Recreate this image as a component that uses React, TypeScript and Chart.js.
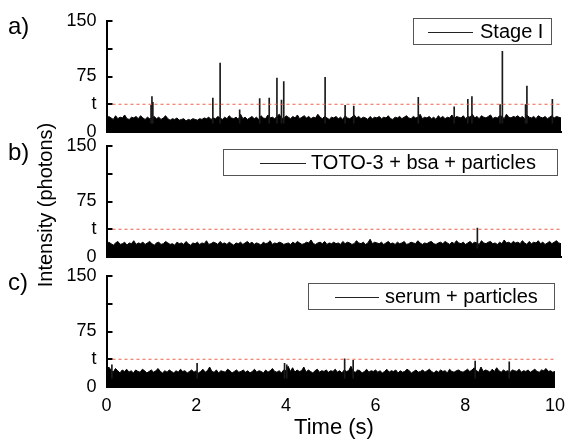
import { useEffect, useRef } from 'react';
import { Chart, registerables } from 'chart.js';

Chart.register(...registerables);

// ---------- data ----------
const NOISE_STEP = 0.05; // seconds between samples of the envelope arrays below

const NOISE_A = [
  18, 21, 19, 17, 22, 18, 20, 19, 23, 18, 17, 20, 19, 21, 18, 22, 19, 17, 20, 18,
  19, 21, 18, 20, 17, 19, 22, 18, 16, 18, 17, 19, 16, 17, 18, 15, 17, 16, 18, 17,
  16, 18, 17, 19, 18, 20, 17, 19, 18, 21, 19, 17, 20, 18, 22, 19, 18, 20, 17, 24,
  18, 20, 17, 19, 21, 18, 20, 17, 22, 19, 18, 23, 19, 20, 18, 21, 24, 19, 18, 22,
  20, 18, 21, 19, 23, 18, 20, 22, 19, 21, 18, 20, 19, 24, 20, 18, 21, 19, 17, 20,
  19, 21, 18, 20, 17, 22, 19, 18, 20, 23, 19, 21, 18, 20, 19, 17, 21, 18, 20, 19,
  21, 18, 20, 19, 22, 18, 17, 20, 19, 21, 18, 20, 22, 19, 18, 21, 19, 20, 24, 18,
  20, 19, 21, 18, 20, 17, 22, 19, 21, 18, 20, 19, 23, 18, 21, 20, 19, 22, 18, 21,
  20, 24, 19, 21, 18, 22, 20, 19, 21, 23, 18, 20, 19, 22, 21, 18, 24, 20, 19, 21,
  20, 22, 19, 21, 18, 23, 20, 19, 21, 18, 22, 20, 19, 21, 18, 20, 22, 19, 21, 20,
  19,
];

const NOISE_B = [
  17, 20, 18, 16, 19, 21, 17, 18, 20, 16, 19, 18, 22, 17, 19, 18, 20, 17, 19, 21,
  18, 16, 19, 20, 17, 18, 21, 19, 17, 18, 16, 20, 18, 19, 17, 21, 18, 16, 19, 18,
  20, 17, 19, 18, 22, 17, 18, 20, 19, 17, 21, 18, 19, 17, 20, 18, 16, 19, 18, 20,
  17, 19, 21, 18, 20, 17, 19, 18, 16, 20, 18, 19, 22, 17, 19, 18, 20, 19, 17, 18,
  19, 17, 20, 18, 21, 19, 17, 18, 20, 19, 23, 18, 17, 19, 20, 18, 21, 17, 19, 18,
  20, 18, 19, 17, 21, 18, 20, 19, 17, 18, 22, 19, 18, 20, 17, 19, 24, 18, 20, 19,
  18, 20, 17, 19, 21, 18, 19, 17, 20, 18, 19, 21, 17, 18, 20, 19, 18, 22, 19, 17,
  19, 18, 20, 21, 18, 17, 19, 20, 18, 21, 19, 17, 20, 18, 22, 19, 18, 20, 17, 19,
  21, 18, 20, 19, 17, 22, 19, 18, 20, 21, 18, 19, 17, 20, 18, 23, 19, 20, 18, 21,
  19, 20, 18, 22, 19, 17, 21, 18, 20, 19, 22, 18, 20, 17, 19, 21, 18, 20, 22, 19,
  18,
];

const NOISE_C = [
  21, 27, 23, 20, 25, 22, 19, 23, 21, 24, 20, 22, 19, 23, 21, 20, 24, 22, 19, 21,
  23, 20, 22, 25, 21, 19, 22, 20, 23, 21, 19, 22, 20, 24, 21, 22, 19, 21, 23, 20,
  22, 19, 21, 24, 20, 22, 27, 21, 20, 23, 19, 22, 21, 20, 24, 22, 19, 21, 23, 20,
  21, 23, 20, 22, 19, 21, 24, 20, 22, 21, 19, 23, 20, 22, 25, 21, 20, 22, 19, 23,
  22, 28, 21, 26, 20, 23, 21, 22, 27, 20, 23, 21, 19, 22, 24, 20, 22, 21, 23, 20,
  22, 21, 24, 20, 22, 19, 23, 21, 22, 28, 21, 20, 23, 22, 19, 21, 24, 20, 22, 21,
  23, 20, 22, 19, 21, 24, 20, 22, 21, 23, 19, 22, 20, 21, 24, 22, 19, 21, 23, 20,
  21, 23, 20, 22, 24, 21, 19, 22, 20, 23, 21, 22, 19, 24, 21, 20, 22, 23, 21, 20,
  22, 24, 21, 23, 26, 22, 20, 27, 21, 23, 22, 20, 24, 21, 26, 22, 20, 23, 21, 22,
  20, 23, 22, 21, 24, 20, 22, 21, 23, 20, 22, 24, 21, 20, 23, 22, 25, 21, 22, 20,
  21,
];

const SPIKE_A_T = [0.98, 1.0, 1.02, 2.34, 2.5, 2.93, 3.37, 3.58, 3.75, 3.85, 3.9, 4.81, 5.25, 5.44, 6.86, 7.65, 7.95, 8.04, 8.66, 8.71, 9.22, 9.25, 9.81];
const SPIKE_A_Y = [36, 48, 40, 46, 93, 30, 45, 46, 73, 43, 68, 74, 36, 35, 47, 34, 44, 48, 37, 109, 37, 62, 44];

const SPIKE_B_T = [8.16];
const SPIKE_B_Y = [39];

const SPIKE_C_T = [0.12, 2.02, 3.97, 4.02, 5.31, 5.5, 8.22, 8.98];
const SPIKE_C_Y = [30, 32, 32, 30, 38, 36, 35, 34];

const SPIKE_BASE = 12; // spikes rise out of the noise band

const THRESHOLD = 37.5;
const Y_TICKS = [0, THRESHOLD, 75, 112.5, 150];
const Y_TICK_LABELS = ['0', 't', '75', '', '150'];
const X_TICKS = [0, 2, 4, 6, 8, 10];
const LEGEND_TEXT = ['Stage I', 'TOTO-3 + bsa + particles', 'serum + particles'];
const PANEL_LABELS = ['a)', 'b)', 'c)'];
const Y_TITLE = 'Intensity (photons)';
const X_TITLE = 'Time (s)';

// ---------- layout ----------
const W = 573;
const H = 439;
const FONT = "'Liberation Sans', Arial, Helvetica, sans-serif";
const PLOT_LEFT = 106.5;
const PLOT_RIGHT = 561;

const LAYOUT = [
  { top: 21, bottom: 132, box: [413.5, 18.5, 138, 26], line: [428, 473], textX: 480, labelY: 27, xLabels: false },
  { top: 146, bottom: 257, box: [223.5, 149.5, 334, 26], line: [260, 306], textX: 311, labelY: 153, xLabels: false },
  { top: 276, bottom: 387, box: [308.5, 283.5, 246, 26], line: [335, 379], textX: 385, labelY: 283, xLabels: true },
];

const PANELS = [
  { noise: NOISE_A, spikeT: SPIKE_A_T, spikeY: SPIKE_A_Y },
  { noise: NOISE_B, spikeT: SPIKE_B_T, spikeY: SPIKE_B_Y },
  { noise: NOISE_C, spikeT: SPIKE_C_T, spikeY: SPIKE_C_Y },
];

const decorPlugin = {
  id: 'panelDecor',
  afterDraw(chart: any, _args: any, opts: any) {
    const ctx = chart.ctx;
    const y = chart.scales.y;
    const area = chart.chartArea;
    ctx.save();
    // inward y tick marks
    ctx.strokeStyle = '#000';
    ctx.lineWidth = 2;
    Y_TICKS.forEach((v) => {
      const py = Math.round(y.getPixelForValue(v));
      ctx.beginPath();
      ctx.moveTo(area.left, py);
      ctx.lineTo(area.left + 6, py);
      ctx.stroke();
    });
    // panel label
    ctx.fillStyle = '#000';
    ctx.font = `24px ${FONT}`;
    ctx.textAlign = 'left';
    ctx.textBaseline = 'middle';
    ctx.fillText(opts.label, 8, opts.labelY);
    // legend
    const [bx, by, bw, bh] = opts.box;
    ctx.fillStyle = '#fff';
    ctx.fillRect(bx, by, bw, bh);
    ctx.strokeStyle = '#555';
    ctx.lineWidth = 1;
    ctx.strokeRect(bx, by, bw, bh);
    ctx.strokeStyle = '#222';
    ctx.beginPath();
    ctx.moveTo(opts.line[0], Math.round(by + bh / 2) + 0.5);
    ctx.lineTo(opts.line[1], Math.round(by + bh / 2) + 0.5);
    ctx.stroke();
    ctx.fillStyle = '#000';
    ctx.font = `20px ${FONT}`;
    ctx.textBaseline = 'middle';
    ctx.fillText(opts.text, opts.textX, by + bh / 2 + 1);
    if (opts.yTitle) {
      ctx.save();
      ctx.translate(46, 205);
      ctx.rotate(-Math.PI / 2);
      ctx.textAlign = 'center';
      ctx.textBaseline = 'middle';
      ctx.font = `20px ${FONT}`;
      ctx.fillText(opts.yTitle, 0, 0);
      ctx.restore();
    }
    if (opts.xTitle) {
      ctx.textAlign = 'center';
      ctx.textBaseline = 'middle';
      ctx.font = `22px ${FONT}`;
      ctx.fillText(opts.xTitle, 334, 428);
    }
    ctx.restore();
  },
};

function makeConfig(idx: number): any {
  const p = PANELS[idx];
  const L = LAYOUT[idx];
  const xAxisH = L.xLabels ? 30 : 0;
  return {
    type: 'line',
    data: {
      datasets: [
        {
          type: 'line',
          data: p.noise.map((v, i) => ({ x: i * NOISE_STEP, y: v })),
          borderColor: '#000',
          backgroundColor: '#000',
          borderWidth: 1,
          pointRadius: 0,
          fill: 'origin',
          tension: 0,
          order: 3,
        },
        {
          type: 'bar',
          data: p.spikeT.map((t, i) => ({ x: t, y: [SPIKE_BASE, p.spikeY[i]] })),
          backgroundColor: '#1a1a1a',
          borderWidth: 0,
          barThickness: 1,
          order: 2,
        },
        {
          type: 'line',
          data: [
            { x: 0, y: THRESHOLD },
            { x: 10, y: THRESHOLD },
          ],
          borderColor: '#f0604a',
          borderWidth: 1,
          borderDash: [3, 3],
          pointRadius: 0,
          fill: false,
          order: 1,
        },
      ],
    },
    options: {
      responsive: false,
      animation: false,
      events: [],
      layout: {
        padding: { left: 0, right: W - PLOT_RIGHT, top: L.top, bottom: H - L.bottom - xAxisH },
      },
      plugins: {
        legend: { display: false },
        tooltip: { enabled: false },
        panelDecor: {
          label: PANEL_LABELS[idx],
          labelY: L.labelY,
          box: L.box,
          line: L.line,
          textX: L.textX,
          text: LEGEND_TEXT[idx],
          yTitle: idx === 1 ? Y_TITLE : null,
          xTitle: idx === 2 ? X_TITLE : null,
        },
      },
      scales: {
        x: {
          type: 'linear',
          min: 0,
          max: 10,
          offset: false,
          afterFit: (s: any) => {
            s.height = xAxisH;
          },
          afterBuildTicks: (s: any) => {
            s.ticks = X_TICKS.map((v) => ({ value: v }));
          },
          ticks: {
            display: L.xLabels,
            color: '#000',
            font: { family: FONT, size: 18 },
            padding: 8,
            maxRotation: 0,
            autoSkip: false,
          },
          grid: { display: true, drawOnChartArea: false, drawTicks: false },
          border: { display: true, color: '#000', width: 2 },
        },
        y: {
          type: 'linear',
          min: 0,
          max: 150,
          afterFit: (s: any) => {
            s.width = PLOT_LEFT;
          },
          afterBuildTicks: (s: any) => {
            s.ticks = Y_TICKS.map((v) => ({ value: v }));
          },
          ticks: {
            color: '#000',
            font: { family: FONT, size: 18 },
            padding: 10,
            autoSkip: false,
            callback: (v: any) => {
              const k = Y_TICKS.indexOf(Number(v));
              return k >= 0 ? Y_TICK_LABELS[k] : '';
            },
          },
          grid: { display: true, drawOnChartArea: false, drawTicks: false },
          border: { display: true, color: '#000', width: 2 },
        },
      },
    },
    plugins: [decorPlugin],
  };
}

export default function App() {
  const r0 = useRef<HTMLCanvasElement>(null);
  const r1 = useRef<HTMLCanvasElement>(null);
  const r2 = useRef<HTMLCanvasElement>(null);

  useEffect(() => {
    const refs = [r0, r1, r2];
    const charts = refs.map((r, i) => new Chart(r.current as HTMLCanvasElement, makeConfig(i)));
    return () => charts.forEach((c) => c.destroy());
  }, []);

  const cs: any = { position: 'absolute', left: 0, top: 0, width: W, height: H };
  return (
    <div style={{ position: 'fixed', left: 0, top: 0, width: W, height: H, background: '#fff', overflow: 'hidden' }}>
      <canvas ref={r0} width={W} height={H} style={cs} />
      <canvas ref={r1} width={W} height={H} style={cs} />
      <canvas ref={r2} width={W} height={H} style={cs} />
    </div>
  );
}
